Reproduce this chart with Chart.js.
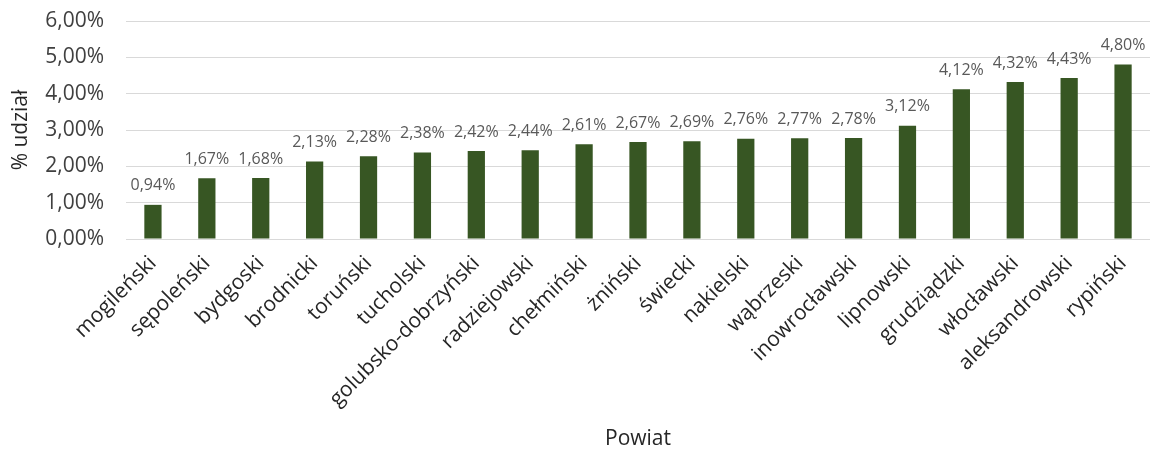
<!DOCTYPE html>
<html>
<head>
<meta charset="utf-8">
<script src="https://cdn.jsdelivr.net/npm/chart.js@4"></script>
<style>
  html, body { margin: 0; padding: 0; background: #fff; }
  #wrap { width: 1150px; height: 452px; }
</style>
</head>
<body>
<div id="wrap"><canvas id="chart" width="1150" height="452"></canvas></div>
<script>
const powiaty = ['mogileński', 'sępoleński', 'bydgoski', 'brodnicki', 'toruński', 'tucholski',
  'golubsko-dobrzyński', 'radziejowski', 'chełmiński', 'żniński', 'świecki', 'nakielski',
  'wąbrzeski', 'inowrocławski', 'lipnowski', 'grudziądzki', 'włocławski', 'aleksandrowski', 'rypiński']
const udzial = [0.94, 1.67, 1.68, 2.13, 2.28, 2.38, 2.42, 2.44, 2.61, 2.67, 2.69, 2.76,
  2.77, 2.78, 3.12, 4.12, 4.32, 4.43, 4.80]
const yTicks = [0, 1, 2, 3, 4, 5, 6]

const fontFamily = '"Open Sans", sans-serif'

function pct(v) {
  return v.toFixed(2).replace('.', ',') + '%'
}

const valueLabels = {
  id: 'valueLabels',
  afterDatasetsDraw(chart) {
    const c = chart.ctx
    const meta = chart.getDatasetMeta(0)
    c.save()
    c.font = '16px ' + fontFamily
    c.fillStyle = '#595959'
    c.textAlign = 'center'
    c.textBaseline = 'bottom'
    meta.data.forEach(function(bar, i) {
      c.fillText(pct(udzial[i]), bar.x, bar.y - 11)
    })
    c.restore()
  }
}

const ctx = document.getElementById('chart').getContext('2d')

new Chart(ctx, {
  type: 'bar',
  data: {
    labels: powiaty,
    datasets: [{
      data: udzial,
      backgroundColor: '#375623',
      barPercentage: 0.32,
      categoryPercentage: 1
    }]
  },
  options: {
    responsive: false,
    animation: false,
    layout: { padding: { top: 21, right: 0, bottom: 0, left: 0 } },
    plugins: {
      legend: { display: false },
      tooltip: { enabled: false }
    },
    scales: {
      x: {
        grid: { display: false, drawTicks: false },
        border: { display: false },
        ticks: {
          autoSkip: false,
          minRotation: 45,
          maxRotation: 45,
          padding: 12,
          color: '#262626',
          font: { family: fontFamily, size: 21 }
        },
        title: {
          display: true,
          text: 'Powiat',
          color: '#262626',
          padding: { top: 0, bottom: 0 },
          font: { family: fontFamily, size: 21 }
        },
        afterFit(scale) {
          scale.height = 213
          scale.paddingLeft = 0
          scale.paddingRight = 0
        }
      },
      y: {
        min: 0,
        max: 6,
        afterBuildTicks(scale) {
          scale.ticks = yTicks.map(function(v) { return { value: v } })
        },
        grid: { color: '#d9d9d9', drawTicks: false },
        border: { display: false },
        ticks: {
          padding: 22,
          color: '#404040',
          font: { family: fontFamily, size: 21 },
          callback: function(v) { return pct(v) }
        },
        title: {
          display: true,
          text: '% udział',
          color: '#262626',
          padding: { top: 8, bottom: 0 },
          font: { family: fontFamily, size: 21 }
        },
        afterFit(scale) {
          scale.width = 126
          scale.paddingTop = 0
          scale.paddingBottom = 0
        }
      }
    }
  },
  plugins: [valueLabels]
})
</script>
</body>
</html>
